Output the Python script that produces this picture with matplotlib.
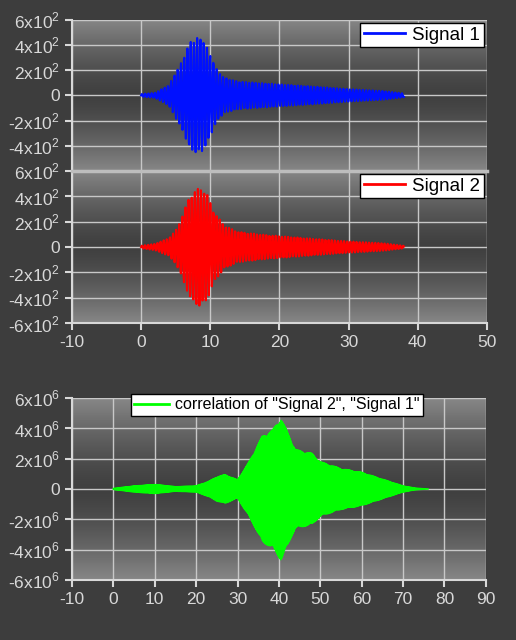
import numpy as np
from matplotlib import pyplot as plt

plt.rcParams['font.family'] = ['Liberation Sans', 'DejaVu Sans']
plt.rcParams['mathtext.fontset'] = 'custom'
plt.rcParams['mathtext.rm'] = 'Liberation Sans'
plt.rcParams['axes.unicode_minus'] = False

# envelope points (time, amplitude)
s1_t = [0, 2, 4, 5, 6, 7, 8, 9, 10, 11, 12, 14, 18, 25, 30, 35, 38]
s1_a = [10, 20, 80, 180, 280, 420, 460, 440, 320, 200, 140, 110, 95, 70, 50, 35, 15]
s2_t = [0, 2, 4, 5, 6, 7, 8, 8.5, 9.5, 10.5, 12, 14, 18, 25, 30, 35, 38]
s2_a = [10, 25, 70, 130, 250, 400, 450, 470, 420, 280, 170, 120, 95, 65, 45, 30, 10]
c_t = [0, 5, 10, 15, 20, 23, 25, 27, 30, 33, 36, 38.5, 40.5, 42.5, 44, 48, 50, 55, 60, 65, 70, 73, 76]
c_a = [0.03, 0.2, 0.3, 0.15, 0.2, 0.5, 0.8, 0.95, 0.6, 1.9, 3.5, 3.9, 4.7, 3.5, 2.6, 2.35, 1.8, 1.35, 1.1, 0.65, 0.2, 0.05, 0.0]

yt_sig = [-600, -400, -200, 0, 200, 400, 600]
yl_sig = ['-6x10$^{2}$', '-4x10$^{2}$', '-2x10$^{2}$', '0', '2x10$^{2}$', '4x10$^{2}$', '6x10$^{2}$']
yt_cor = [-6e6, -4e6, -2e6, 0, 2e6, 4e6, 6e6]
yl_cor = ['-6x10$^{6}$', '-4x10$^{6}$', '-2x10$^{6}$', '0', '2x10$^{6}$', '4x10$^{6}$', '6x10$^{6}$']

bg = '#3d3d3d'
fg = '#d8d8d8'


def wave(t_pts, a_pts, tmax, period, n):
    t = np.linspace(0, tmax, n)
    env = np.interp(t, t_pts, a_pts)
    return t, env * np.sin(2 * np.pi * t / period)


def style(ax, xlim, yt, yl):
    g = 0.25 + 0.28 * np.abs(np.linspace(-1, 1, 256)) ** 1.4
    grad = np.repeat(g[:, None, None], 3, axis=2)
    ax.imshow(grad, extent=[0, 1, 0, 1], transform=ax.transAxes,
              aspect='auto', zorder=0)
    ax.set_xlim(*xlim)
    ax.set_yticks(yt)
    ax.set_yticklabels(yl)
    ax.set_ylim(yt[0], yt[-1])
    ax.grid(True, color='#c8c8c8', lw=1)
    ax.set_axisbelow(True)
    for s in ['top', 'right']:
        ax.spines[s].set_visible(False)
    for s in ['left', 'bottom']:
        ax.spines[s].set_color(fg)
        ax.spines[s].set_linewidth(1.5)
    ax.tick_params(colors=fg, labelsize=12.5, direction='out', length=5, width=1.5)


fig = plt.figure(figsize=(5.16, 6.4), dpi=100, facecolor=bg)
ax1 = fig.add_axes([0.1395, 0.733, 0.804, 0.236])
ax2 = fig.add_axes([0.1395, 0.495, 0.804, 0.238], sharex=ax1)
ax3 = fig.add_axes([0.1395, 0.094, 0.802, 0.284])

t1, y1 = wave(s1_t, s1_a, 38, 0.47, 700)
t2, y2 = wave(s2_t, s2_a, 38, 0.45, 700)
tc, yc = wave(c_t, [v * 1e6 for v in c_a], 76, 0.23, 3000)

ax1.plot(t1, y1, color='#0010ff', lw=1.5, label='Signal 1')
ax2.plot(t2, y2, color='#ff0000', lw=1.5, label='Signal 2')
ax3.plot(tc, yc, color='#00ff00', lw=1.2, label='correlation of "Signal 2", "Signal 1"')

style(ax1, (-10, 50), yt_sig, yl_sig)
style(ax2, (-10, 50), yt_sig, yl_sig)
style(ax3, (-10, 90), yt_cor, yl_cor)
ax1.set_yticks(yt_sig[1:])
ax1.set_yticklabels(yl_sig[1:])
ax1.set_ylim(-600, 600)
ax1.tick_params(axis='x', length=0, labelbottom=False)
ax1.spines['bottom'].set_visible(False)
ax2.spines['top'].set_visible(True)
ax2.spines['top'].set_color('#bdbdbd')
ax2.spines['top'].set_linewidth(2.5)
ax2.set_xticks(range(-10, 51, 10))
ax3.set_xticks(range(-10, 91, 10))

for ax, loc in [(ax1, 'upper right'), (ax2, 'upper right'), (ax3, 'upper center')]:
    leg = ax.legend(loc=loc, fontsize=13.5 if ax is not ax3 else 11.5, fancybox=False,
                    framealpha=1, edgecolor='black', borderaxespad=0.15,
                    borderpad=0.2, handlelength=2.2, handletextpad=0.4)
    leg.get_frame().set_linewidth(1)
    for h in leg.get_lines():
        h.set_linewidth(2)
leg = ax3.get_legend()
leg.set_bbox_to_anchor((0.495, 1.035), transform=ax3.transAxes)

fig.savefig('out.png', dpi=100, facecolor=bg)
